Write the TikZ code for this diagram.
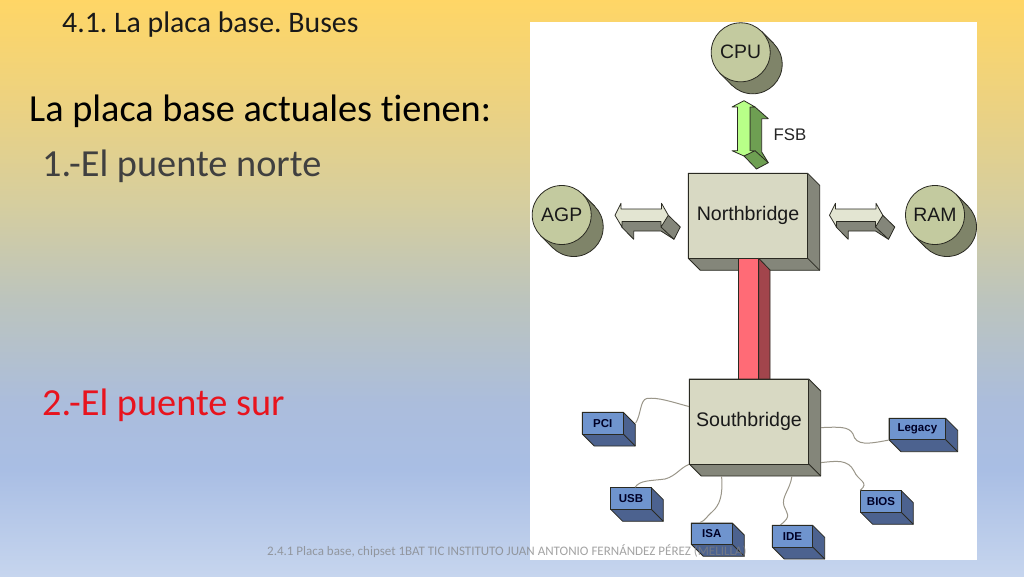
\documentclass[tikz,border=0pt]{standalone}
\usepackage{fontspec}
\setmainfont{Carlito}[Ligatures={NoCommon}]
\newfontfamily\arialf{Liberation Sans}
\usetikzlibrary{calc}
\frenchspacing
\definecolor{lnk}{HTML}{2A2A22}
\definecolor{bigF}{HTML}{D8D9C3}
\definecolor{bigS}{HTML}{84867A}
\definecolor{discF}{HTML}{C3CA9F}
\definecolor{discS}{HTML}{7F8469}
\definecolor{smF}{HTML}{6F94CE}
\definecolor{smS}{HTML}{4C628F}
\definecolor{grF}{HTML}{B8FF88}
\definecolor{grS}{HTML}{6E9F52}
\definecolor{hF}{HTML}{E3E5D2}
\definecolor{redF}{HTML}{FF6B76}
\definecolor{redS}{HTML}{A2454C}
\definecolor{wirec}{HTML}{9A9689}
\definecolor{bgA}{HTML}{FFD666}
\definecolor{bgA1}{HTML}{EDD27F}
\definecolor{bgA2}{HTML}{D6CE9E}
\definecolor{bgB}{HTML}{BCC4BD}
\definecolor{bgC}{HTML}{ABBDDC}
\definecolor{bgD}{HTML}{A9BEE4}
\definecolor{bgE}{HTML}{C6D5EE}
\pgfdeclareverticalshading{slidebg}{100bp}{
 color(0bp)=(bgE); color(25bp)=(bgE); color(34.2bp)=(bgD); color(40bp)=(bgC); color(49bp)=(bgB); color(57.5bp)=(bgA2); color(66.5bp)=(bgA1); color(75bp)=(bgA); color(100bp)=(bgA)}
\tikzset{
 x=1pt,y=-1pt,
 edge/.style={draw=lnk,line width=0.8pt,line join=round},
 wire/.style={draw=wirec,line width=1pt},
 title/.style={anchor=base west,inner sep=0pt,font=\fontsize{38.3}{38}\selectfont},
 small/.style={font=\arialf\bfseries\fontsize{11.5}{11.5}\selectfont,text=black!85!blue},
 big/.style={font=\arialf\fontsize{19.6}{20}\selectfont,text=black!90},
 disc/.style={circle,inner sep=0pt,minimum size=59pt,edge,fill=discF,font=\arialf\fontsize{19.4}{20}\selectfont,text=black!90}
}
% name, x1,y1,x2,y2, front, side, style, text
\newcommand{\solidbox}[9]{%
 \path[edge,fill=#7] (#2,#3)--(#4,#3)--({#4+12},{#3+12})--({#4+12},{#5+12})--({#2+12},{#5+12})--(#2,#5)--cycle;
 \draw[edge] (#4,#5)--({#4+12},{#5+12});
 \node[edge,fill=#6,inner sep=0pt,minimum width={#4-#2},minimum height={#5-#3},#8] (#1) at ({(#2+#4)/2},{(#3+#5)/2}) {#9};
}
\newcommand{\discnode}[4]{%
 \path[edge,fill=discS] ({#2+12},{#3+12}) circle (29.5pt);
 \path[fill=discS] ({#2+20.9},{#3-20.9}) -- ({#2+32.9},{#3-8.9}) -- ({#2-8.9},{#3+32.9}) -- ({#2-20.9},{#3+20.9}) -- cycle;
 \draw[edge] ({#2+20.9},{#3-20.9}) -- ({#2+32.9},{#3-8.9});
 \draw[edge] ({#2-20.9},{#3+20.9}) -- ({#2-8.9},{#3+32.9});
 \node[disc] (#1) at (#2,#3) {#4};
}
\newcommand{\hdouble}[1]{%
 \begin{scope}[shift={(#1,0)}]
  \path[edge,fill=bigS] (621.7,227)--(633.7,239.3)--(633.7,231)--(661,231)--(674,239.3)--(680.3,227)--(668.3,215.3)--(622,221.5)--cycle;
  \draw[edge] (661,227)--(674,239.3);
  \path[edge,fill=hF] (615,215.3)--(621,203.3)--(621,209)--(661.5,209)--(661.5,203.3)--(668.3,215.3)--(661,227)--(661,221.5)--(622,221.5)--(622,227)--cycle;
 \end{scope}
}
\begin{document}
\begin{tikzpicture}
\useasboundingbox (0,0) rectangle (1024,576);
\fill[shading=slidebg] (0,0) rectangle (1024,576);
\fill[white] (530,22) rectangle (977,560);

\node[title,font=\fontsize{29.8}{30}\selectfont,text=black!90] (heading) at (62,32) {4.1. La placa base. Buses};
\node[title] (line1) at (29,121) {La placa base actuales tienen:};
\node[title,text=black!75] (line2) at (42,176) {1.-El puente norte};
\node[title,text={rgb,255:red,232;green,20;blue,30}] (line3) at (42,415) {2.-El puente sur};

\discnode{cpu}{740.7}{52.3}{CPU}
\discnode{agp}{561.7}{215}{AGP}
\discnode{ram}{935}{215}{RAM}

% FSB arrow
\path[edge,fill=grS] (750,107)--(755,107)--(768.3,118.7)--(761.7,118.7)--(761.7,152)--(768.3,162.7)--(756.5,169)--(744,156)--(750,150)--cycle;
\draw[edge] (755,150.7)--(768.3,162.7);
\path[edge,fill=grF] (744,100.7)--(755,107)--(750,107)--(750,150.7)--(755,150.7)--(744,156)--(732,150.7)--(737.5,150.7)--(737.5,107)--(732,107)--cycle;
\node[anchor=base west,inner sep=0pt,font=\arialf\fontsize{16.8}{17}\selectfont,text=black!85] (fsb) at (773.5,140) {FSB};

\hdouble{0}
\hdouble{214.5}

\solidbox{nb}{688.3}{173.3}{807.7}{258.3}{bigF}{bigS}{big}{Northbridge}
% red bus between the bridges
\path[edge,fill=redS] (758.7,258.3)--(770,270)--(770,380)--(758.7,380)--cycle;
\path[edge,fill=redF] (738,258.3) rectangle (758.7,380);

\solidbox{sb}{689.3}{379}{808.7}{464}{bigF}{bigS}{big}{Southbridge}

\solidbox{pci}{582.3}{412.3}{623.3}{434}{smF}{smS}{small}{PCI}
\solidbox{usb}{610.7}{487.7}{651.3}{509.3}{smF}{smS}{small}{USB}
\solidbox{isa}{691.3}{523}{732.3}{544.3}{smF}{smS}{small}{ISA}
\solidbox{ide}{772.3}{525.3}{812.7}{547}{smF}{smS}{small}{IDE}
\solidbox{bios}{860.7}{490.7}{901.3}{512.3}{smF}{smS}{small}{BIOS}
\solidbox{legacy}{889}{418.3}{945.7}{439.7}{smF}{smS}{small}{Legacy}

% wire ends on the extruded faces
\coordinate (sbR1) at ($(sb.north east)+(12,49)$);
\coordinate (sbR2) at ($(sb.north east)+(12,84)$);
\coordinate (sbB1) at ($(sb.south west)+(32.7,12)$);
\coordinate (sbB2) at ($(sb.south west)+(103,12)$);
\coordinate (pciR) at ($(pci.north east)+(12,11)$);

\draw[wire] (sb.166) .. controls (672,402) and (658,397) .. (646.7,398.5) .. controls (640,400) and (641,415) .. (pciR);
\draw[wire] (sbR1) .. controls (838,427) and (849,426) .. (853,434) .. controls (856,446) and (868,444) .. (legacy.south west);
\draw[wire] (sbR2) .. controls (836,461) and (848,459) .. (854,471) .. controls (858,481) and (870,482) .. (bios.north west);
\draw[wire] (sb.south west) .. controls (680,468) and (676,476) .. (665,479) .. controls (650,481) and (640,480) .. (usb.70);
\draw[wire] (sbB1) .. controls (723,495) and (720,505) .. (712,512) .. controls (706,517) and (706,520) .. (isa.137);
\draw[wire] (sbB2) .. controls (790,490) and (781,497) .. (784,506) .. controls (787,514) and (792,516) .. (ide.137);

\node[anchor=base west,inner sep=0pt,font=\fontsize{13}{13}\selectfont,text=gray,opacity=0.72] (foot) at (267,555) {2.4.1 Placa base, chipset 1BAT TIC INSTITUTO JUAN ANTONIO FERNÁNDEZ PÉREZ (MELILLA)};
\end{tikzpicture}
\end{document}
